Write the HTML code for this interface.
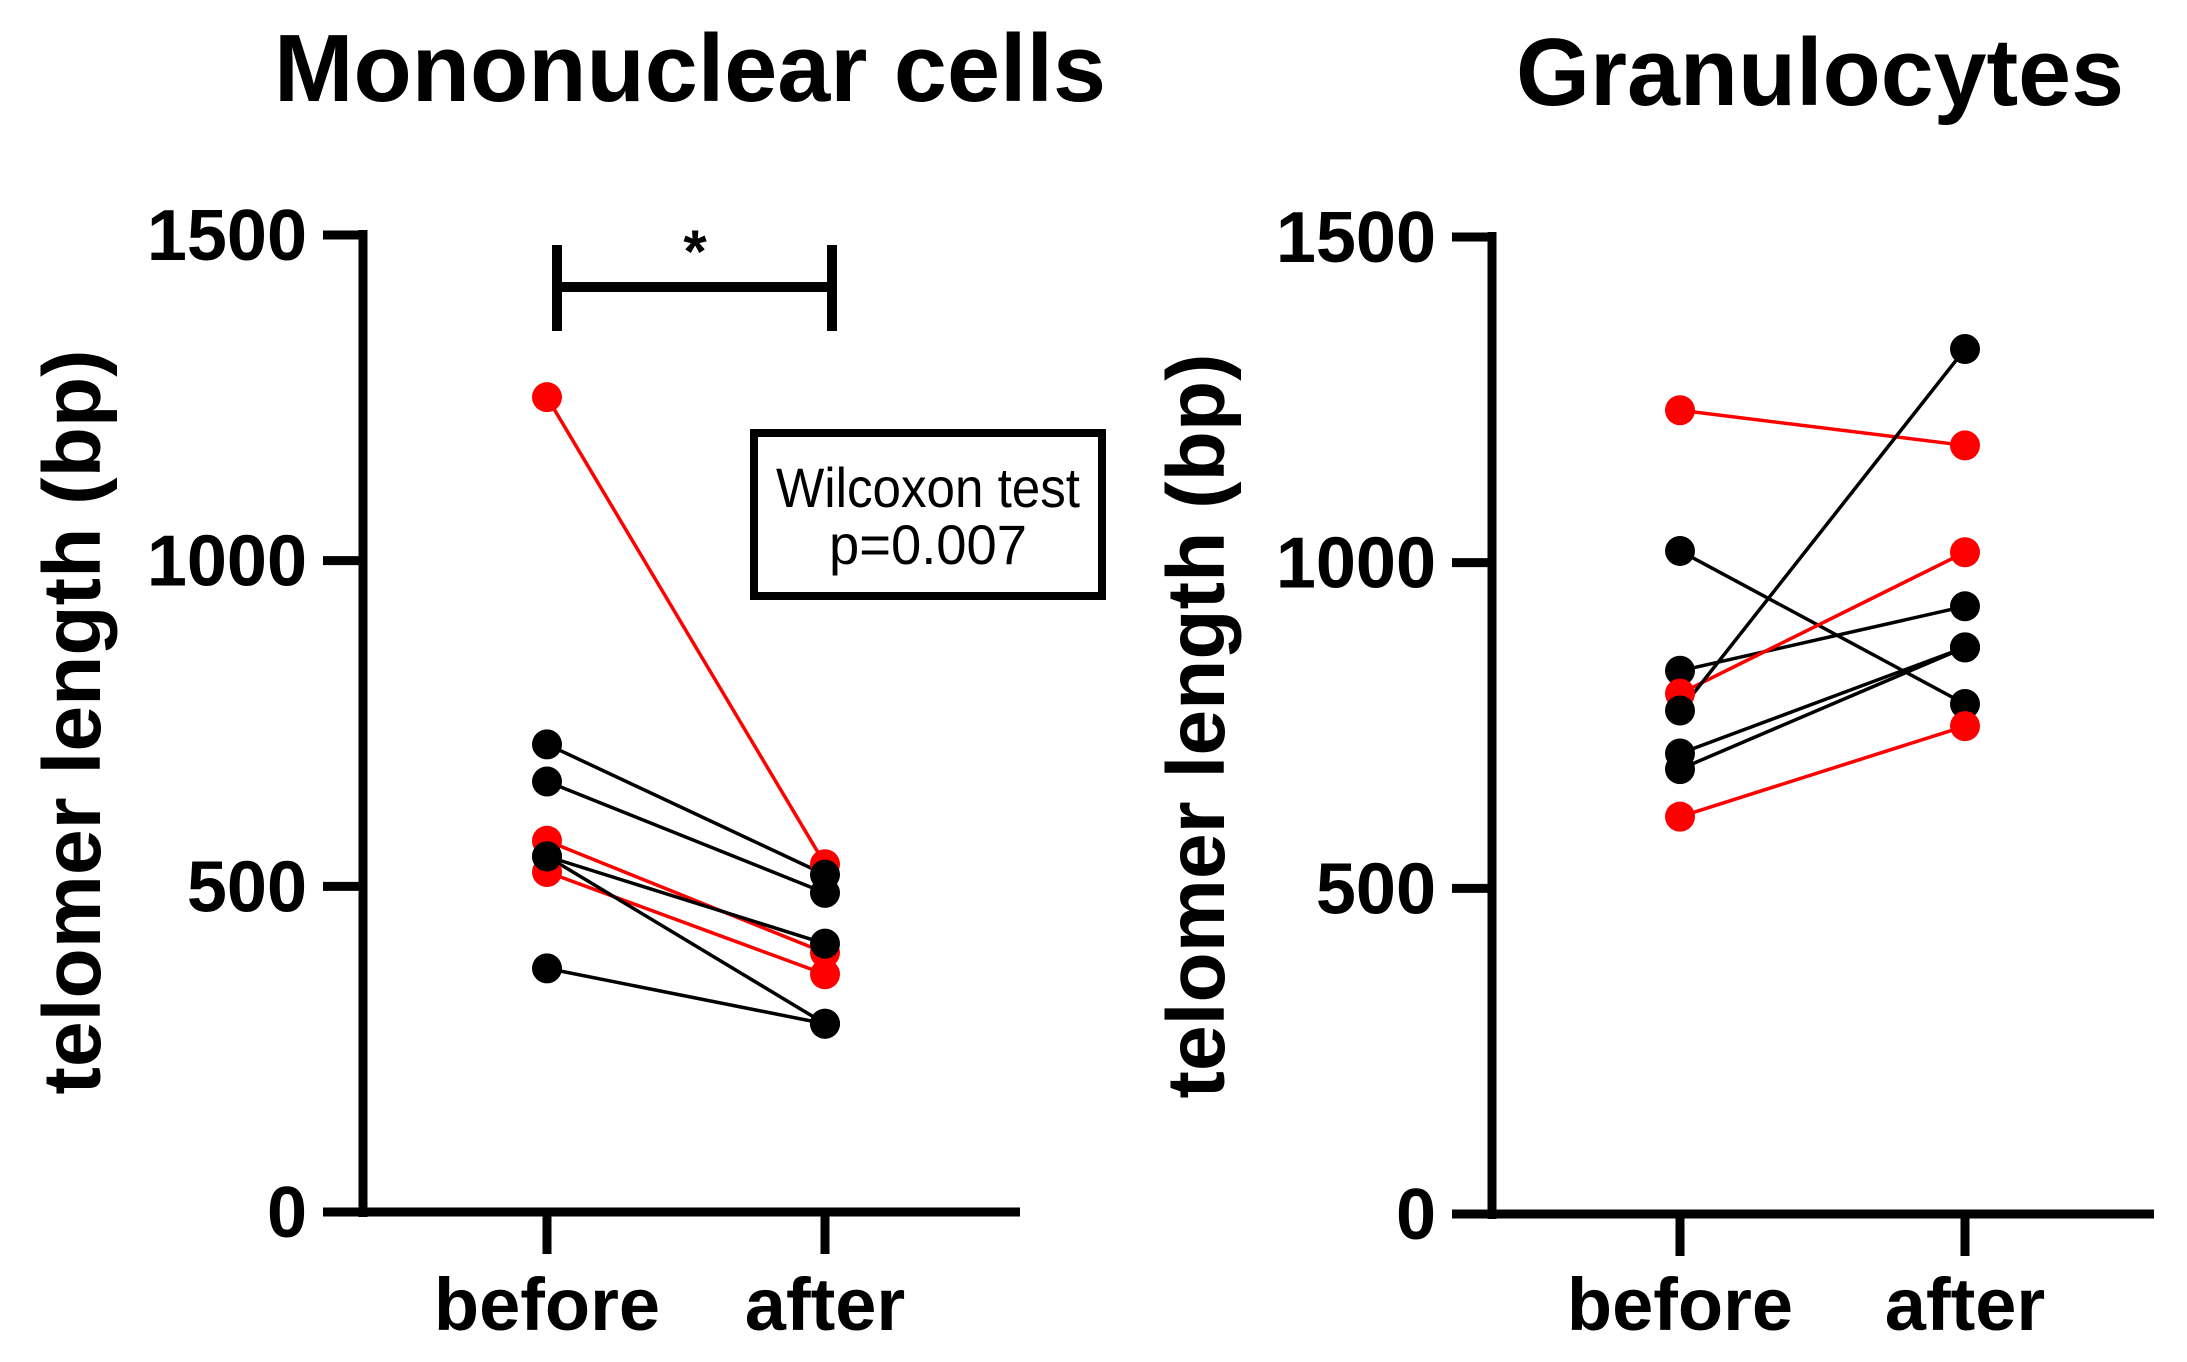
<!DOCTYPE html>
<html><head><meta charset="utf-8"><style>html,body{margin:0;padding:0;background:#fff}svg{display:block}</style></head>
<body>
<svg id="chart" width="2187" height="1362" viewBox="0 0 2187 1362" xmlns="http://www.w3.org/2000/svg" font-family="Liberation Sans, Arial, sans-serif">
<text x="690" y="101" font-size="96" font-weight="bold" text-anchor="middle" textLength="832" lengthAdjust="spacingAndGlyphs">Mononuclear cells</text>
<text x="1820" y="105" font-size="96" font-weight="bold" text-anchor="middle" textLength="608" lengthAdjust="spacingAndGlyphs">Granulocytes</text>
<g id="p1"></g>
<g id="p2"></g>
<g stroke="#000" stroke-width="10">
<line x1="557" y1="287" x2="832" y2="287"/><line x1="557" y1="245" x2="557" y2="331"/><line x1="832" y1="245" x2="832" y2="331"/></g>
<text x="695" y="272" font-size="60" font-weight="bold" text-anchor="middle">*</text>
<rect x="754" y="433" width="348" height="163" fill="#fff" stroke="#000" stroke-width="8"/>
<text x="928" y="507" font-size="56" text-anchor="middle" textLength="304" lengthAdjust="spacingAndGlyphs">Wilcoxon test</text>
<text x="928" y="564" font-size="56" text-anchor="middle" textLength="198" lengthAdjust="spacingAndGlyphs">p=0.007</text>
</svg>
<script>
const categories = ['before', 'after'];
const yTicks = [0, 500, 1000, 1500];
const mnBefore = [1251, 718, 661, 570, 522, 546, 546, 374];
const mnAfter  = [534, 518, 490, 398, 365, 412, 289, 289];
const mnColor  = ['red','black','black','red','red','black','black','black'];
const grBefore = [1234, 1018, 834, 799, 773, 707, 683, 610];
const grAfter  = [1180, 783, 933, 1016, 1328, 870, 870, 749];
const grColor  = ['red','black','black','red','black','black','black','red'];
const NS = 'http://www.w3.org/2000/svg';
function mk(parent, tag, attrs){const e=document.createElementNS(NS,tag);for(const k in attrs)e.setAttribute(k,attrs[k]);parent.appendChild(e);return e;}
function panel(g, cfg, before, after, colors){
  const yScale = v => cfg.y0 - (v/1500)*(cfg.y0-cfg.y1);
  const xScale = i => cfg.xs[i];
  let e = mk(g,'line',{x1:cfg.ax,y1:cfg.y1-5,x2:cfg.ax,y2:cfg.y0+5,stroke:'#000','stroke-width':9});
  
  
  e = mk(g,'line',{x1:cfg.ax-40,y1:cfg.y0,x2:cfg.xend,y2:cfg.y0,stroke:'#000','stroke-width':9});
  
  
  yTicks.forEach(t=>{
    const y=yScale(t);
    const l=mk(g,'line',{x1:cfg.ax-40,y1:y,x2:cfg.ax,y2:y,stroke:'#000','stroke-width':9});
    
    
    const tx=mk(g,'text',{x:cfg.ax-56,y:y+25,'font-size':72,'font-weight':'bold','text-anchor':'end'});
    tx.textContent=t;
    
    
  });
  categories.forEach((c,i)=>{
    const x=xScale(i);
    const l=mk(g,'line',{x1:x,y1:cfg.y0,x2:x,y2:cfg.y0+42,stroke:'#000','stroke-width':9});
    
    
    const tx=mk(g,'text',{x:x,y:1330,'font-size':74,'font-weight':'bold','text-anchor':'middle'});
    tx.textContent=c;
    
    
  });
  const tt=mk(g,'text',{x:0,y:0,'font-size':82,'font-weight':'bold','text-anchor':'middle',textLength:745,lengthAdjust:'spacingAndGlyphs',transform:`translate(${cfg.tx},${cfg.ty}) rotate(-90)`});
  tt.textContent='telomer length (bp)';
  
  
  before.forEach((b,i)=>{
    const col=colors[i]==='red'?'#ff0000':'#000';
    const ln=mk(g,'line',{x1:xScale(0),y1:yScale(b),x2:xScale(1),y2:yScale(after[i]),stroke:col,'stroke-width':3.5});
    
    
  });
  before.forEach((b,i)=>{
    const col=colors[i]==='red'?'#ff0000':'#000';
    [b,after[i]].forEach((v,j)=>{
      const c=mk(g,'circle',{cx:xScale(j),cy:yScale(v),r:15,fill:col});
      
      
    });
  });
}
panel(document.getElementById('p1'),{ax:363,y0:1212,y1:235,xs:[547,825],xend:1020,tx:100,ty:722},mnBefore,mnAfter,mnColor);
panel(document.getElementById('p2'),{ax:1492,y0:1214,y1:237,xs:[1680,1965],xend:2154,tx:1224,ty:726},grBefore,grAfter,grColor);
</script>
</body></html>
